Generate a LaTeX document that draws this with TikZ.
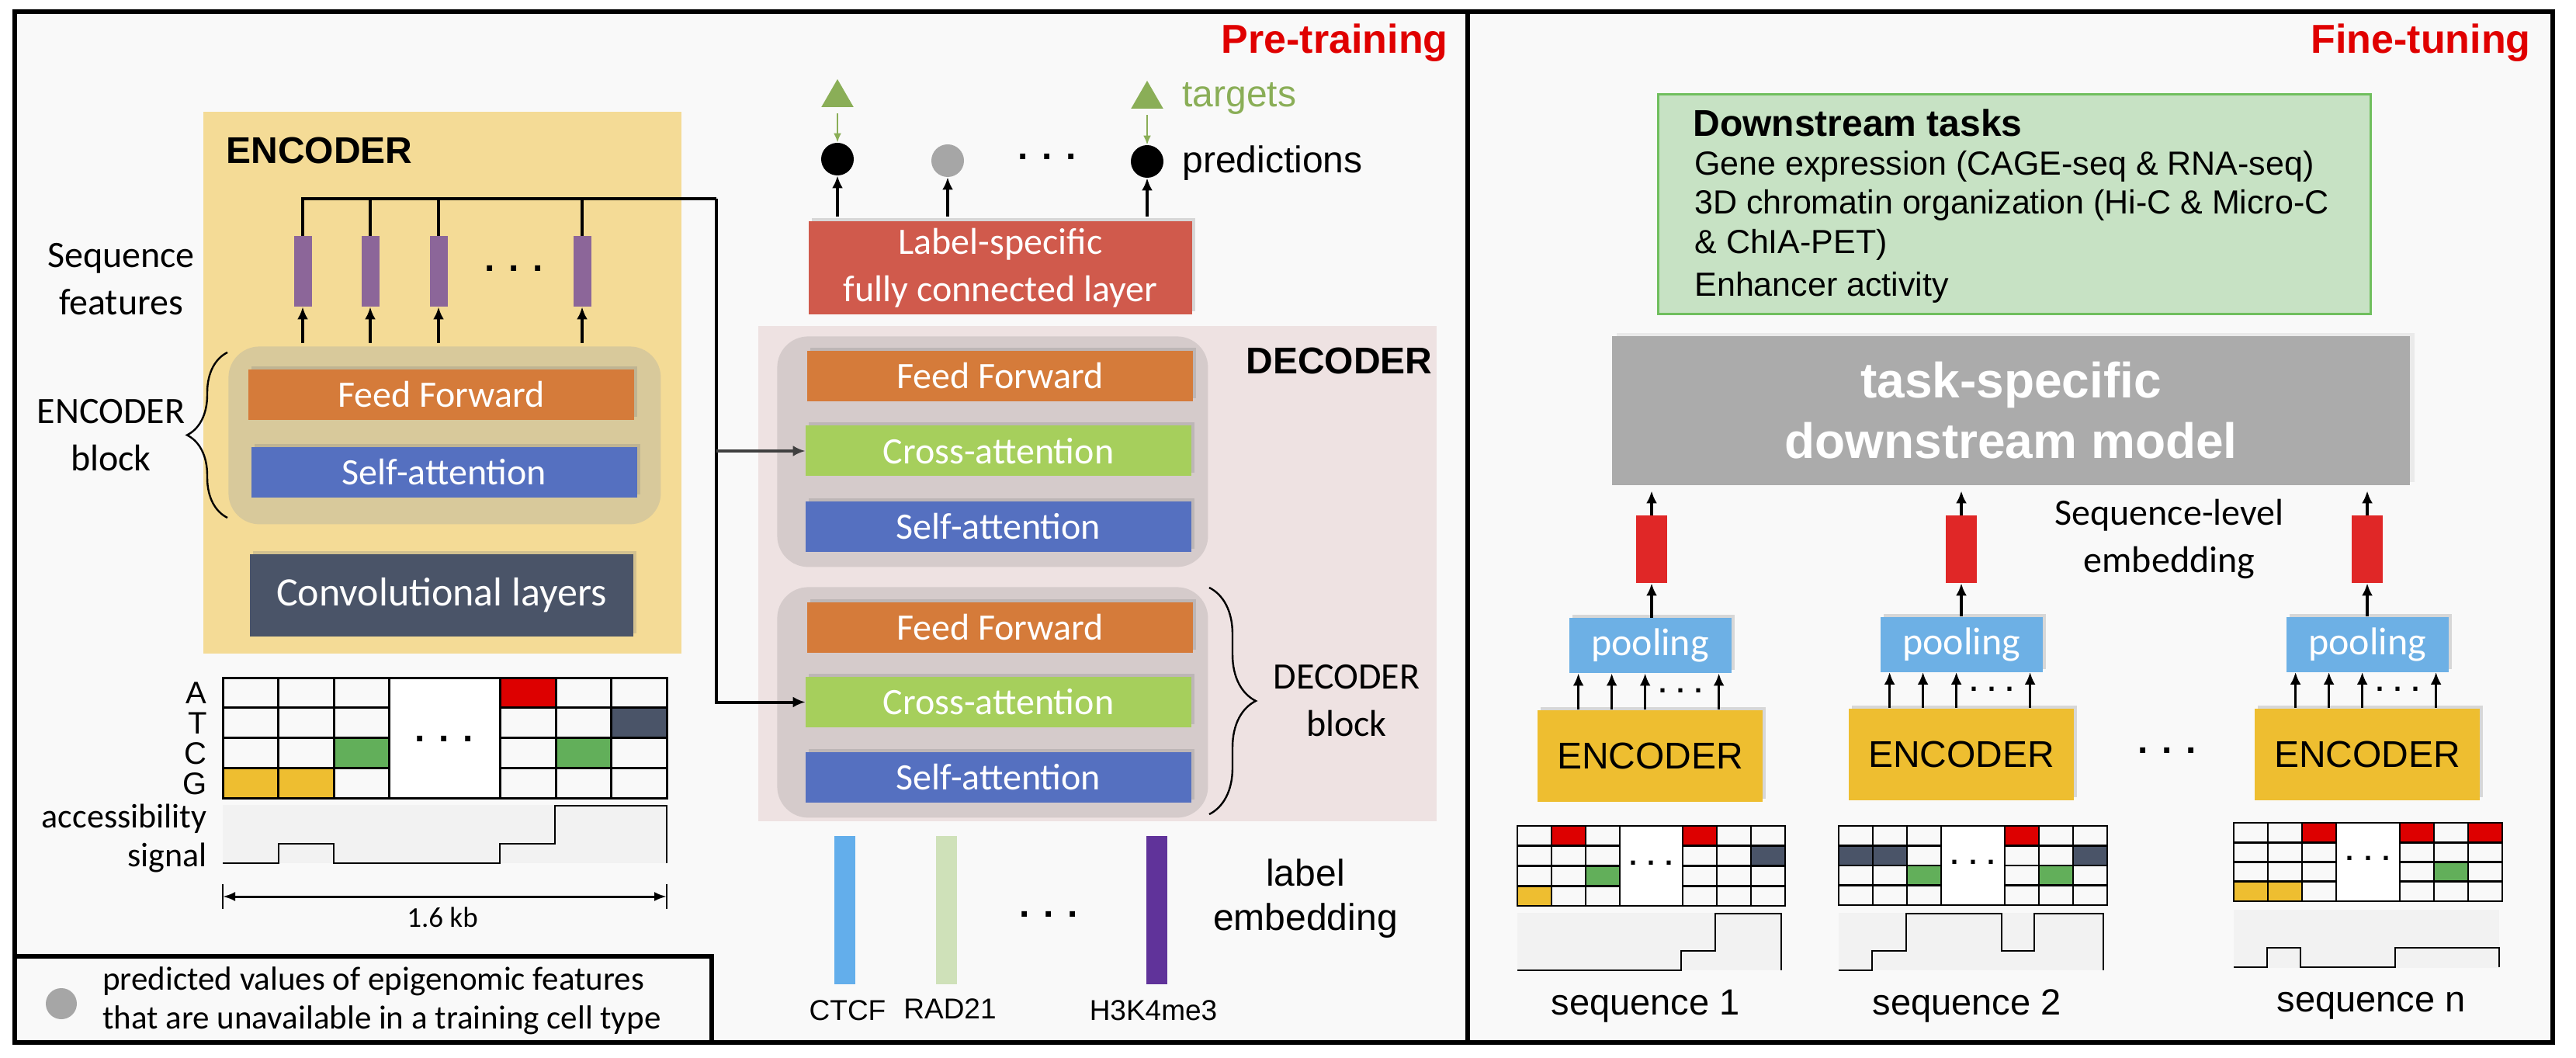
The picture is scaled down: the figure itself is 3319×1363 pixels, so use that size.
\documentclass[tikz,border=0pt]{standalone}
\usepackage{fontspec}
\setmainfont{Liberation Sans}
\newfontfamily\calfont{Carlito}
\usetikzlibrary{arrows.meta,shadows,decorations.pathreplacing,shapes.geometric}
\definecolor{panelbg}{HTML}{F9F9F9}
\definecolor{encbg}{HTML}{F4DB96}
\definecolor{encblk}{HTML}{D8C99B}
\definecolor{decbg}{HTML}{EEE2E2}
\definecolor{decblk}{HTML}{D5CBCB}
\definecolor{ffc}{HTML}{D57B3A}
\definecolor{sac}{HTML}{5570C0}
\definecolor{cac}{HTML}{A6CF5C}
\definecolor{convc}{HTML}{4A5468}
\definecolor{lsc}{HTML}{D05A4C}
\definecolor{purp}{HTML}{8C6699}
\definecolor{tgtc}{HTML}{8AAE57}
\definecolor{ctcfc}{HTML}{63AEEB}
\definecolor{radc}{HTML}{CFE1B9}
\definecolor{h3c}{HTML}{60339A}
\definecolor{gred}{HTML}{DD0000}
\definecolor{ggreen}{HTML}{62AF5A}
\definecolor{gyel}{HTML}{EEBE30}
\definecolor{dsfill}{HTML}{C7E2C4}
\definecolor{dsdraw}{HTML}{70BF5E}
\definecolor{tsgray}{HTML}{ABABAB}
\definecolor{rbar}{HTML}{E02727}
\definecolor{poolc}{HTML}{6DB0E5}
\definecolor{sigbg}{HTML}{F2F2F2}
\definecolor{predgray}{HTML}{A6A6A6}
\definecolor{titlered}{HTML}{E00000}

% DNA grid: #1 x0, #2 y0, #3 small col width, #4 wide col width, #5 row height, #6 coloured cells col/row/colour, #7 line width
\newcommand\dnagrid[7]{%
  \foreach \c/\r/\cc in {#6}{%
    \pgfmathsetmacro\xl{#1+(\c-1)*#3+(\c>4)*(#4-#3)}%
    \pgfmathsetmacro\yt{#2+(\r-1)*#5}%
    \fill[\cc] (\xl,\yt) rectangle +(#3,#5);
  }%
  \foreach \c in {1,2,3,5,6,7}{%
    \foreach \r in {1,2,3,4}{%
      \pgfmathsetmacro\xl{#1+(\c-1)*#3+(\c>4)*(#4-#3)}%
      \pgfmathsetmacro\yt{#2+(\r-1)*#5}%
      \draw[line width=#7] (\xl,\yt) rectangle +(#3,#5);
    }%
  }%
  \draw[line width=#7, fill=white] (#1+3*#3,#2) rectangle +(#4,4*#5);
}

\begin{document}
\begin{tikzpicture}[x=0.5pt,y=-0.5pt,
  sz/.style 2 args={minimum width=#1*0.5pt, minimum height=#2*0.5pt},
  shad/.style={drop shadow={opacity=0.28, shadow xshift=2pt, shadow yshift=2pt}},
  layer/.style={draw=none, inner sep=0pt, text=white, font=\calfont\fontsize{24}{29}\selectfont, shad},
  ffbox/.style={layer, fill=ffc},
  sabox/.style={layer, fill=sac},
  cabox/.style={layer, fill=cac},
  blk/.style={draw=none, rounded corners=20pt, inner sep=0pt},
  arr/.style={-{Latex[length=8pt,width=7pt]}, line width=1.6pt},
  plain/.style={inner sep=0pt},
  cal/.style={plain, font=\calfont\fontsize{24}{30.5}\selectfont, align=center},
  arial/.style={plain, font=\fontsize{24}{28.5}\selectfont, align=center},
  bracedec/.style={decorate, decoration={brace, amplitude=#1}, line width=1.2pt},
  frame/.style={line width=3pt},
]
\useasboundingbox (0,0) rectangle (3319,1363);
\fill[white] (0,0) rectangle (3319,1363);
\fill[panelbg] (19,15) rectangle (3289,1343);

%================ PRE-TRAINING PANEL ================
\node[plain, anchor=base east, text=titlered, font=\bfseries\fontsize{26}{30}\selectfont] (pretrain) at (1866,69) {Pre-training};

% encoder background
\node[fill=encbg, draw=none, inner sep=0pt, sz={616}{698}, anchor=north west] (encbgn) at (262,144) {};
\node[plain, anchor=west, font=\bfseries\fontsize{24}{28}\selectfont] (enctitle) at (291,194) {ENCODER};

% sequence feature bars
\foreach \i/\xx in {1/390,2/477,3/565,4/750}{
  \node[fill=purp, draw=none, inner sep=0pt, sz={23}{91}] (bar\i) at (\xx,349.5) {};
}
\node[plain, font=\bfseries\fontsize{24}{24}\selectfont] (bdots) at (662,346) {. . .};
\node[cal] (seqfeat) at (156,360) {Sequence\\features};

% encoder block
\node[blk, fill=encblk, sz={557}{229}, anchor=north west] (eblock) at (294,446) {};
\node[ffbox, sz={497}{65}] (eff) at (568.5,508.5) {Feed Forward};
\node[sabox, sz={497}{65}] (esa) at (572.5,608.5) {Self-attention};
\draw[bracedec=26pt] (293,667) -- (293,454);
\node[cal] (eblklbl) at (143,561) {ENCODER\\block};

% conv layers
\node[layer, fill=convc, sz={494}{106}, font=\calfont\fontsize{26}{30}\selectfont] (conv) at (569,767) {Convolutional layers};

% arrows block -> bars
\foreach \i in {1,2,3,4}{
  \draw[arr] (bar\i.south |- eblock.north) ++(0,-4) -- (bar\i.south);
}

% DNA grid (left)
\dnagrid{287}{873}{71.5}{143}{38.75}{5/1/gred,7/2/convc,3/3/ggreen,6/3/ggreen,1/4/gyel,2/4/gyel}{1.5pt}
\node[plain, font=\bfseries\fontsize{24}{24}\selectfont] (gdots) at (572.5,952) {. . .};
\foreach \l/\yy in {A/893,T/932,C/971,G/1010}{
  \node[plain, anchor=east, font=\fontsize{20}{20}\selectfont] (let\l) at (267,\yy) {\l};
}
% accessibility signal
\fill[sigbg] (287,1037) rectangle (859,1112);
\draw[line width=1.3pt] (287,1112) -- (359,1112) -- (359,1087) -- (430,1087) -- (430,1112) -- (644,1112) -- (644,1087) -- (715,1087) -- (715,1038) -- (859,1038) -- (859,1112);
\node[plain, anchor=east, font=\calfont\fontsize{22}{25}\selectfont, align=right] (acc) at (267,1080) {accessibility\\signal};
% 1.6 kb
\coordinate (dimL) at (287,1155);
\coordinate (dimR) at (859,1155);
\draw[line width=1.5pt, {Latex[length=8pt,width=6pt]}-{Latex[length=8pt,width=6pt]}] (dimL) -- (dimR);
\draw[line width=1.3pt] (287,1139) -- (287,1171) (859,1139) -- (859,1171);
\node[plain, font=\calfont\fontsize{18.5}{20}\selectfont] (kb) at (570,1182) {1.6 kb};

% legend
\draw[frame] (19,1232) rectangle (917,1343);
\node[circle, fill=predgray, inner sep=0pt, minimum size=20pt] (legdot) at (79,1293) {};
\node[plain, anchor=west, align=left, font=\calfont\fontsize{21.5}{25}\selectfont] (legtxt) at (132,1289) {predicted values of epigenomic features\\that are unavailable in a training cell type};

% predictions & targets
\node[fill=lsc, draw=none, inner sep=0pt, sz={494}{120}, text=white, align=center, font=\calfont\fontsize{24}{30.5}\selectfont, shad] (lsl) at (1289,345) {Label-specific\\fully connected layer};
\node[circle, fill=black, inner sep=0pt, minimum size=21pt] (p1) at (1079,205) {};
\node[circle, fill=predgray, inner sep=0pt, minimum size=21pt] (p2) at (1221,207) {};
\node[circle, fill=black, inner sep=0pt, minimum size=21pt] (p3) at (1478,208) {};
\node[plain, font=\bfseries\fontsize{24}{24}\selectfont] (pdots) at (1349,202) {. . .};
\node[regular polygon, regular polygon sides=3, fill=tgtc, inner sep=0pt, minimum size=24pt] (t1) at (1079,126) {};
\node[regular polygon, regular polygon sides=3, fill=tgtc, inner sep=0pt, minimum size=24pt] (t3) at (1478,128) {};
\node[plain, anchor=west, text=tgtc, font=\fontsize{24}{28}\selectfont] (tgtlbl) at (1523,127) {targets};
\node[plain, anchor=west, font=\fontsize{24}{28}\selectfont] (predlbl) at (1523,210) {predictions};
\draw[-{Latex[length=6pt,width=5pt]}, line width=1.1pt, tgtc] (t1.south) ++(0,8) -- (p1.north);
\draw[-{Latex[length=6pt,width=5pt]}, line width=1.1pt, tgtc] (t3.south) ++(0,8) -- (p3.north);
\foreach \i in {1,2,3}{
  \draw[arr] (p\i |- lsl.north) ++(0,-6) -- (p\i.south);
}

% decoder
\node[fill=decbg, draw=none, inner sep=0pt, sz={874}{638}, anchor=north west] (decbgn) at (977,420) {};
\node[plain, anchor=west, font=\bfseries\fontsize{24}{28}\selectfont] (dectitle) at (1605,465) {DECODER};
\node[blk, fill=decblk, sz={555}{297}, anchor=north west] (dblock1) at (1001,433) {};
\node[blk, fill=decblk, sz={555}{297}, anchor=north west] (dblock2) at (1001,756) {};
\node[ffbox, sz={497}{65}] (dff1) at (1288.5,484.5) {Feed Forward};
\node[cabox, sz={497}{65}] (dca1) at (1286.5,581) {Cross-attention};
\node[sabox, sz={497}{65}] (dsa1) at (1286.5,678) {Self-attention};
\node[ffbox, sz={497}{65}] (dff2) at (1288.5,808) {Feed Forward};
\node[cabox, sz={497}{65}] (dca2) at (1286.5,904.5) {Cross-attention};
\node[sabox, sz={497}{65}] (dsa2) at (1286.5,1001.5) {Self-attention};
\draw[bracedec=30pt] (1558,757) -- (1558,1049);
\node[cal] (dblklbl) at (1735,903) {DECODER\\block};

% encoder output bus -> cross attention
\coordinate (busR) at (922.5,256);
\draw[line width=2pt] (bar1.north) |- (busR);
\foreach \i in {2,3,4}{
  \draw[line width=2pt] (bar\i.north) -- (bar\i.north |- busR);
}
\draw[arr, line width=2pt] (busR) |- (dca2.west);
\draw[arr, line width=2pt, black!75] (busR |- dca1.west) -- (dca1.west);

% label embeddings
\node[fill=ctcfc, draw=none, inner sep=0pt, sz={27}{191}] (ctcf) at (1088.5,1172.5) {};
\node[fill=radc, draw=none, inner sep=0pt, sz={27}{191}] (rad) at (1219.5,1172.5) {};
\node[fill=h3c, draw=none, inner sep=0pt, sz={27}{191}] (h3) at (1490.5,1172.5) {};
\node[plain, font=\bfseries\fontsize{24}{24}\selectfont] (ldots) at (1351,1178) {. . .};
\node[plain, font=\fontsize{18.5}{20}\selectfont] (ctcflbl) at (1092,1302) {CTCF};
\node[plain, font=\fontsize{18.5}{20}\selectfont] (radlbl) at (1224,1300) {RAD21};
\node[plain, font=\fontsize{18.5}{20}\selectfont] (h3lbl) at (1486,1302) {H3K4me3};
\node[arial] (lemb) at (1682,1158) {label\\embedding};

%================ FINE-TUNING PANEL ================
\node[plain, anchor=base east, text=titlered, font=\bfseries\fontsize{26}{30}\selectfont] (finetune) at (3261,69) {Fine-tuning};

\node[fill=dsfill, draw=dsdraw, line width=1.5pt, inner sep=0pt, sz={918}{283}, anchor=north west] (dsbox) at (2135,120) {};
\node[plain, anchor=west, font=\bfseries\fontsize{24}{28}\selectfont] (dstitle) at (2181,158) {Downstream tasks};
\node[plain, anchor=west, font=\fontsize{21.5}{25}\selectfont] (ds1) at (2183,214) {Gene expression (CAGE-seq \& RNA-seq)};
\node[plain, anchor=west, font=\fontsize{21.5}{25}\selectfont] (ds2) at (2183,264) {3D chromatin organization (Hi-C \& Micro-C};
\node[plain, anchor=west, font=\fontsize{21.5}{25}\selectfont] (ds3) at (2183,315) {\& ChIA-PET)};
\node[plain, anchor=west, font=\fontsize{21.5}{25}\selectfont] (ds4) at (2183,370) {Enhancer activity};

\node[fill=tsgray, draw=none, inner sep=0pt, sz={1028}{192}, text=white, align=center, font=\bfseries\fontsize{32}{39}\selectfont, drop shadow={opacity=0.12, shadow xshift=3pt, shadow yshift=2pt}] (tsm) at (2591,529) {task-specific\\downstream model};

\node[cal] (slemb) at (2795,694) {Sequence-level\\embedding};

\foreach \i/\xx/\ex/\py/\ey in {1/2128/2126/831.5/973.5, 2/2527/2527/830/971.5, 3/3050/3050/830/971.5}{
  \node[fill=rbar, draw=none, inner sep=0pt, sz={40}{87}] (rb\i) at (\xx,707.5) {};
  \node[fill=poolc, draw=none, inner sep=0pt, sz={209}{71}, text=white, font=\calfont\fontsize{25}{30}\selectfont, shad] (pool\i) at (\ex,\py) {pooling};
  \node[fill=gyel, draw=none, inner sep=0pt, sz={290}{118}, font=\fontsize{24}{28}\selectfont, shad] (enc\i) at (\ex,\ey) {ENCODER};
  \draw[arr] (rb\i.north) -- ([yshift=-3.5pt]rb\i.north |- tsm.south);
  \draw[arr] (pool\i.north -| rb\i) -- (rb\i.south);
  \foreach \o in {53,96,139,234}{
    \draw[arr, line width=1.8pt] ([xshift=\o*0.5pt]enc\i.north west) -- ([xshift=\o*0.5pt]enc\i.north west |- pool\i.south);
  }
  \node[plain, font=\bfseries\fontsize{18}{18}\selectfont] (edots\i) at ([xshift=185*0.5pt,yshift=12pt]enc\i.north west) {. . .};
}
\node[plain, font=\bfseries\fontsize{24}{24}\selectfont] (encdots) at (2792,967) {. . .};

% fine-tuning grids
\dnagrid{1955}{1064}{44}{81}{25.75}{2/1/gred,5/1/gred,7/2/convc,3/3/ggreen,1/4/gyel}{1.3pt}
\node[plain, font=\bfseries\fontsize{18}{18}\selectfont] (g1dots) at (2127.5,1112) {. . .};
\dnagrid{2369}{1064}{44}{82}{25.5}{5/1/gred,1/2/convc,2/2/convc,7/2/convc,3/3/ggreen,6/3/ggreen}{1.3pt}
\node[plain, font=\bfseries\fontsize{18}{18}\selectfont] (g2dots) at (2542,1111) {. . .};
\dnagrid{2878}{1060}{44}{82}{25.25}{3/1/gred,5/1/gred,7/1/gred,6/3/ggreen,1/4/gyel,2/4/gyel}{1.3pt}
\node[plain, font=\bfseries\fontsize{18}{18}\selectfont] (g3dots) at (3051,1106) {. . .};

% fine-tuning signals
\fill[sigbg] (1955,1176) rectangle (2295,1250);
\draw[line width=1.3pt] (1955,1250) -- (2166,1250) -- (2166,1225) -- (2210,1225) -- (2210,1177) -- (2295,1177) -- (2295,1250);
\fill[sigbg] (2369,1176) rectangle (2710,1250);
\draw[line width=1.3pt] (2369,1250) -- (2412,1250) -- (2412,1225) -- (2456,1225) -- (2456,1177) -- (2579,1177) -- (2579,1225) -- (2621,1225) -- (2621,1177) -- (2710,1177) -- (2710,1250);
\fill[sigbg] (2878,1172) rectangle (3220,1247);
\draw[line width=1.3pt] (2878,1246) -- (2921,1246) -- (2921,1221) -- (2964,1221) -- (2964,1246) -- (3086,1246) -- (3086,1221) -- (3220,1221) -- (3220,1246);

\node[plain, font=\fontsize{23.5}{28}\selectfont] (seq1) at (2120,1296) {sequence 1};
\node[plain, font=\fontsize{23.5}{28}\selectfont] (seq2) at (2534,1296) {sequence 2};
\node[plain, font=\fontsize{23.5}{28}\selectfont] (seqn) at (3055,1296) {sequence n};

% frames
\draw[frame] (19,15) rectangle (1891,1343);
\draw[frame] (1891,15) rectangle (3289,1343);
\end{tikzpicture}
\end{document}
